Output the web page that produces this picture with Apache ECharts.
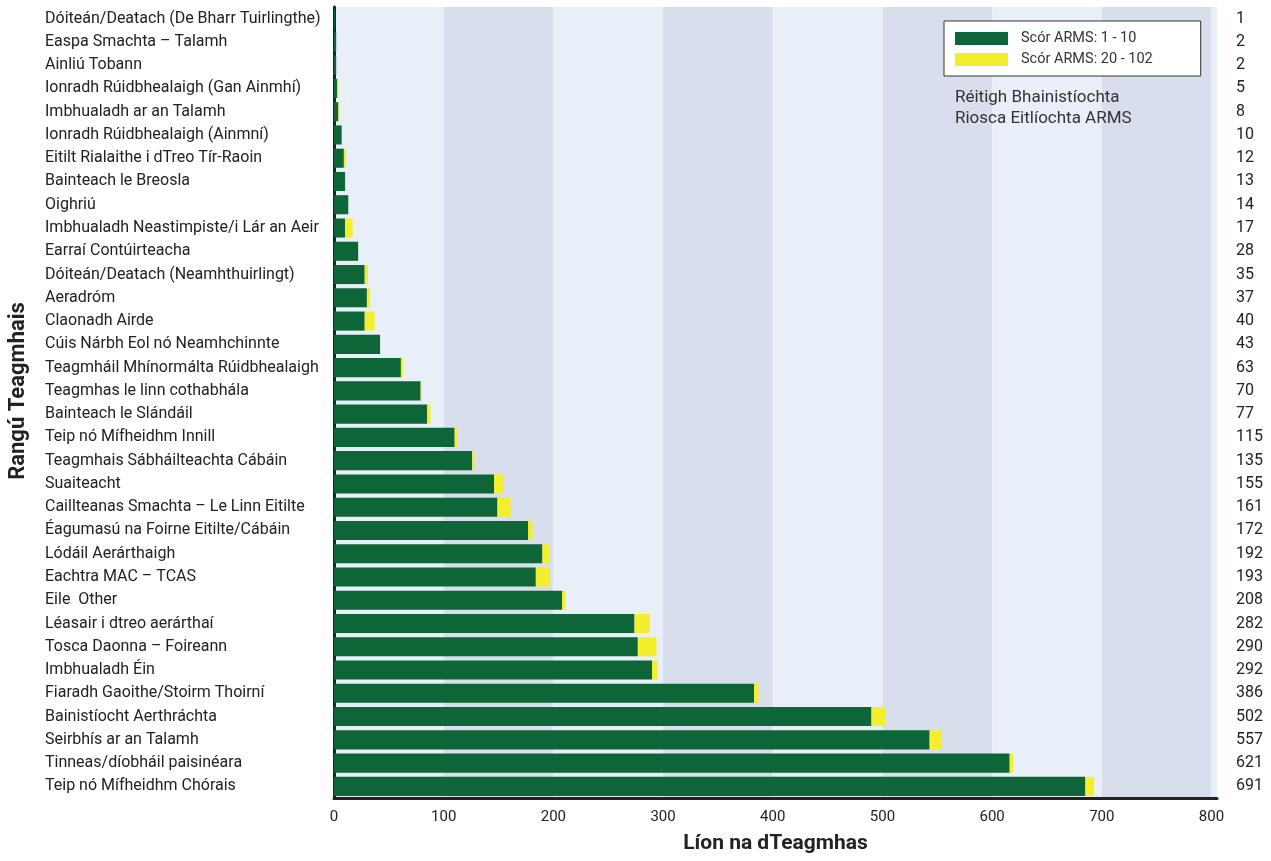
<!DOCTYPE html>
<html>
<head>
<meta charset="utf-8">
<script src="https://cdn.jsdelivr.net/npm/echarts@6/dist/echarts.min.js"></script>
<style>
html,body{margin:0;padding:0;background:#fff;}
#chart{width:1271px;height:861px;}
</style>
</head>
<body>
<div id="chart"></div>
<script>
const categories = [
  "Dóiteán/Deatach (De Bharr Tuirlingthe)",
  "Easpa Smachta – Talamh",
  "Ainliú Tobann",
  "Ionradh Rúidbhealaigh (Gan Ainmhí)",
  "Imbhualadh ar an Talamh",
  "Ionradh Rúidbhealaigh (Ainmní)",
  "Eitilt Rialaithe i dTreo Tír-Raoin",
  "Bainteach le Breosla",
  "Oighriú",
  "Imbhualadh Neastimpiste/i Lár an Aeir",
  "Earraí Contúirteacha",
  "Dóiteán/Deatach (Neamhthuirlingt)",
  "Aeradróm",
  "Claonadh Airde",
  "Cúis Nárbh Eol nó Neamhchinnte",
  "Teagmháil Mhínormálta Rúidbhealaigh",
  "Teagmhas le linn cothabhála",
  "Bainteach le Slándáil",
  "Teip nó Mífheidhm Innill",
  "Teagmhais Sábháilteachta Cábáin",
  "Suaiteacht",
  "Caillteanas Smachta – Le Linn Eitilte",
  "Éagumasú na Foirne Eitilte/Cábáin",
  "Lódáil Aerárthaigh",
  "Eachtra MAC – TCAS",
  "Eile  Other",
  "Léasair i dtreo aerárthaí",
  "Tosca Daonna – Foireann",
  "Imbhualadh Éin",
  "Fiaradh Gaoithe/Stoirm Thoirní",
  "Bainistíocht Aerthráchta",
  "Seirbhís ar an Talamh",
  "Tinneas/díobháil paisinéara",
  "Teip nó Mífheidhm Chórais"
];
const scoreLow = [1, 2, 2, 3, 4, 7, 9, 10, 13, 10, 22, 28, 30, 28, 42, 61, 79, 85, 110, 126, 146, 149, 177, 190, 184, 208, 274, 277, 290, 383, 490, 543, 616, 685];
const scoreHigh = [0, 0, 0, 1, 1, 0, 2, 1, 0, 7, 0, 3, 3, 9, 0, 2, 1, 3, 3, 2, 8, 12, 4, 6, 13, 3, 14, 17, 5, 4, 13, 11, 3, 8];
const totals = [1, 2, 2, 5, 8, 10, 12, 13, 14, 17, 28, 35, 37, 40, 43, 63, 70, 77, 115, 135, 155, 161, 172, 192, 193, 208, 282, 290, 292, 386, 502, 557, 621, 691];
const seriesNames = ["Scór ARMS: 1 - 10", "Scór ARMS: 20 - 102"];
const xTicks = [0, 100, 200, 300, 400, 500, 600, 700, 800];

const FONT = "Roboto";
const chart = echarts.init(document.getElementById('chart'));
chart.setOption({
  animation: false,
  backgroundColor: '#ffffff',
  textStyle: { fontFamily: FONT },
  title: {
    text: 'Réitigh Bhainistíochta\nRiosca Eitlíochta ARMS',
    left: 950, top: 82,
    textStyle: { fontFamily: FONT, fontSize: 17, fontWeight: 'normal', color: '#333', lineHeight: 21 }
  },
  legend: {
    orient: 'vertical',
    left: 944, top: 21,
    padding: [10, 48, 9, 11],
    itemWidth: 53, itemHeight: 13, itemGap: 6,
    backgroundColor: '#ffffff',
    borderColor: '#333', borderWidth: 1,
    icon: 'rect',
    textStyle: { fontFamily: FONT, fontSize: 14.5, color: '#333', padding: [0, 0, 0, 8] },
    data: seriesNames
  },
  graphic: [{
    type: 'text',
    x: 18, y: 391,
    rotation: Math.PI / 2,
    style: {
      text: 'Rangú Teagmhais',
      fontFamily: FONT, fontSize: 22, fontWeight: 'bold', fill: '#222',
      align: 'center', verticalAlign: 'middle'
    }
  }],
  grid: { left: 334, right: 54, top: 7, bottom: 63, containLabel: false },
  xAxis: {
    type: 'value',
    min: 0, max: 805, interval: 100,
    name: 'Líon na dTeagmhas',
    nameLocation: 'middle', nameGap: 35,
    nameTextStyle: { fontFamily: FONT, fontSize: 21, fontWeight: 'bold', color: '#222' },
    axisLine: { show: true, lineStyle: { color: '#222', width: 3 } },
    axisTick: { show: false },
    axisLabel: {
      fontFamily: FONT, fontSize: 15, color: '#222', margin: 12,
      formatter: v => xTicks.indexOf(v) >= 0 ? String(v) : ''
    },
    splitLine: { show: false },
    splitArea: { show: true, areaStyle: { color: ['#e9eff9', '#d8deeb'] } }
  },
  yAxis: [{
    type: 'category',
    data: categories,
    inverse: true,
    axisLine: { show: true, lineStyle: { color: '#222', width: 3 } },
    axisTick: { show: false },
    axisLabel: { fontFamily: FONT, fontSize: 16, color: '#222', align: 'left', margin: 289, interval: 0 }
  }, {
    type: 'category',
    data: categories,
    inverse: true,
    position: 'right',
    axisLine: { show: false },
    axisTick: { show: false },
    axisLabel: {
      fontFamily: FONT, fontSize: 16, color: '#222', align: 'left', margin: 19, interval: 0,
      formatter: (v, i) => String(totals[i])
    }
  }],
  series: [{
    name: seriesNames[0], type: 'bar', stack: 'arms', yAxisIndex: 0,
    data: scoreLow, barCategoryGap: '18%',
    itemStyle: { color: '#0e6638' }
  }, {
    name: seriesNames[1], type: 'bar', stack: 'arms', yAxisIndex: 0,
    data: scoreHigh, barCategoryGap: '18%',
    itemStyle: { color: '#f5ee2d' }
  }]
});
</script>
</body>
</html>
